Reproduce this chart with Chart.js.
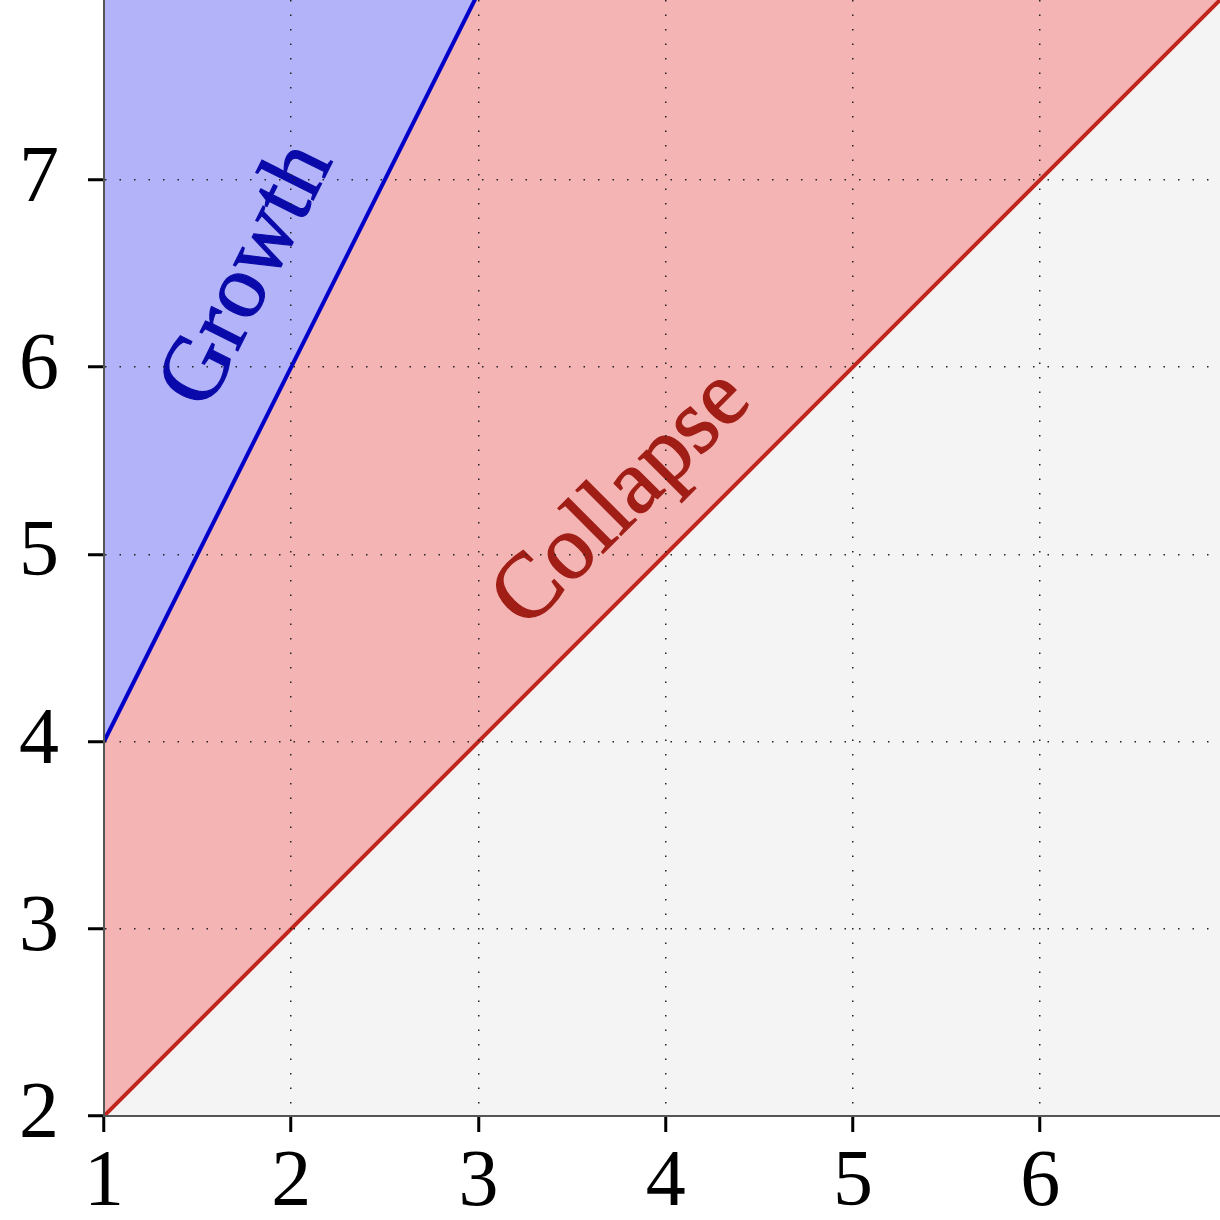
<!DOCTYPE html>
<html>
<head>
<meta charset="utf-8">
<script src="https://cdn.jsdelivr.net/npm/chart.js@4.4.1/dist/chart.umd.min.js"></script>
<style>
    html, body { margin: 0; padding: 0; background: #fff; }
    #wrap { width: 1220px; height: 1220px; }
</style>
</head>
<body>
<div id="wrap"><canvas id="chart" width="1220" height="1220"></canvas></div>
<script>
// Axis ranges and ticks
const xRange = [1, 6.96];
const yRange = [2, 7.96];
const xTicks = [1, 2, 3, 4, 5, 6];
const yTicks = [2, 3, 4, 5, 6, 7];

// Boundary lines (end points)
const growthX = [1, 3];
const growthY = [4, 8];
const collapseX = [1, 7];
const collapseY = [2, 8];

// Region labels, placed along their boundary line
const labelNames = ['Growth', 'Collapse'];
const labelAtX = [2.15, 4.03];

const SERIF = '"Liberation Serif", "DejaVu Serif", serif';

const toPoints = (xs, ys) => xs.map((x, i) => ({ x: x, y: ys[i] }));

// Light grey plot background
const plotBackground = {
    id: 'plotBackground',
    beforeDraw(chart) {
        const { ctx, chartArea: a } = chart;
        ctx.save();
        ctx.fillStyle = '#f4f4f4';
        ctx.fillRect(a.left, a.top, a.right - a.left, a.bottom - a.top);
        ctx.restore();
    }
};

// Rotated labels sitting on the boundary lines
const regionLabels = {
    id: 'regionLabels',
    afterDatasetsDraw(chart) {
        const { ctx } = chart;
        const sx = chart.scales.x, sy = chart.scales.y;
        const lines = [[growthX, growthY], [collapseX, collapseY]];
        const colors = ['#0a0aaa', '#a01e16'];
        const gaps = [55, 45];

        labelNames.forEach((name, i) => {
            const [xs, ys] = lines[i];
            const x0 = sx.getPixelForValue(xs[0]), y0 = sy.getPixelForValue(ys[0]);
            const x1 = sx.getPixelForValue(xs[1]), y1 = sy.getPixelForValue(ys[1]);
            const angle = Math.atan2(y1 - y0, x1 - x0);
            const t = (labelAtX[i] - xs[0]) / (xs[1] - xs[0]);

            ctx.save();
            ctx.translate(x0 + t * (x1 - x0), y0 + t * (y1 - y0));
            ctx.rotate(angle);
            ctx.font = '92px ' + SERIF;
            ctx.fillStyle = colors[i];
            ctx.strokeStyle = colors[i];
            ctx.lineWidth = 1.2;
            ctx.textAlign = 'center';
            ctx.textBaseline = 'alphabetic';
            ctx.fillText(name, 0, -gaps[i]);
            ctx.strokeText(name, 0, -gaps[i]);
            ctx.restore();
        });
    }
};

function axisOptions(range, ticks, fitSize, horizontal) {
    return {
        type: 'linear',
        min: range[0],
        max: range[1],
        afterBuildTicks: scale => {
            scale.ticks = ticks.map(v => ({ value: v }));
        },
        afterFit: scale => {
            // plot area runs right up to the top and right edges
            if (horizontal) scale.height = fitSize;
            else scale.width = fitSize;
            scale.paddingTop = 0;
            scale.paddingBottom = 0;
            scale.paddingLeft = 0;
            scale.paddingRight = 0;
        },
        grid: {
            z: 1,
            color: '#222',
            lineWidth: 1.5,
            drawTicks: true,
            tickLength: 16,
            tickColor: '#000',
            tickWidth: 3,
            tickBorderDash: []
        },
        border: {
            display: true,
            color: '#555',
            width: 2,
            dash: [1.5, 13],
            z: 2
        },
        ticks: {
            color: '#000',
            padding: horizontal ? 4 : 29,
            font: { family: SERIF, size: 80 },
            callback: v => String(v)
        }
    };
}

new Chart(document.getElementById('chart'), {
    type: 'line',
    data: {
        datasets: [
            {
                label: 'Growth',
                data: toPoints(growthX, growthY),
                borderColor: '#0000c8',
                backgroundColor: '#b2b3f8',
                borderWidth: 4,
                fill: 'end',
                pointRadius: 0,
                tension: 0
            },
            {
                label: 'Collapse',
                data: toPoints(collapseX, collapseY),
                borderColor: '#c0261e',
                backgroundColor: '#f4b4b4',
                borderWidth: 4,
                fill: 'end',
                pointRadius: 0,
                tension: 0
            }
        ]
    },
    options: {
        responsive: false,
        devicePixelRatio: 1,
        animation: false,
        layout: { padding: 0 },
        plugins: {
            legend: { display: false },
            tooltip: { enabled: false }
        },
        scales: {
            x: axisOptions(xRange, xTicks, 104, true),
            y: axisOptions(yRange, yTicks, 104, false)
        }
    },
    plugins: [plotBackground, regionLabels]
});
</script>
</body>
</html>
